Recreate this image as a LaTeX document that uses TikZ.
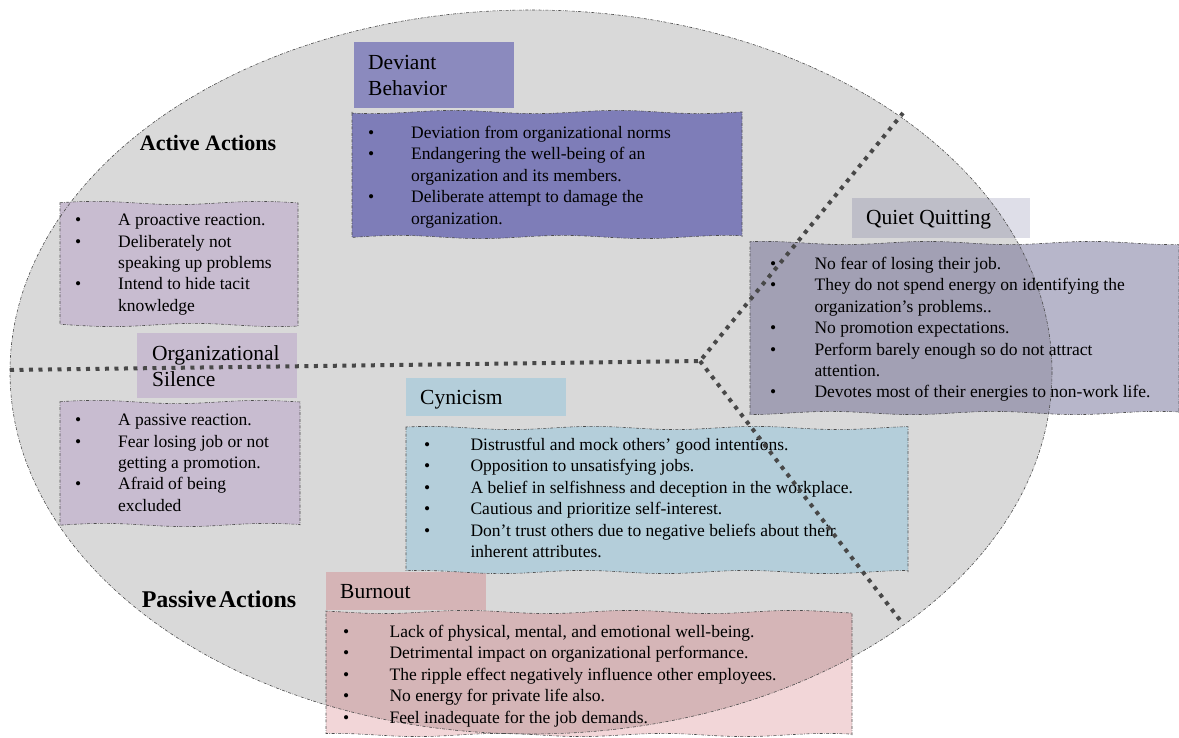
\documentclass[tikz,border=0pt]{standalone}
\usepackage{fontspec}
\setmainfont{Liberation Serif}
\definecolor{ovalgray}{RGB}{217,217,217}
\definecolor{devhead}{RGB}{139,138,190}
\definecolor{devfill}{RGB}{126,125,184}
\definecolor{silfill}{RGB}{200,188,208}
\definecolor{cynfill}{RGB}{180,206,218}
\definecolor{burnhead}{RGB}{213,180,182}
\definecolor{burnin}{RGB}{213,181,183}
\definecolor{burnout}{RGB}{242,214,216}
\definecolor{qqheadin}{RGB}{190,190,200}
\definecolor{qqheadout}{RGB}{222,222,232}
\definecolor{qqin}{RGB}{162,160,180}
\definecolor{qqout}{RGB}{183,182,202}
\definecolor{dotgray}{RGB}{72,72,72}
\tikzset{
  wavybox/.style n args={4}{insert path={(#1,#2)
    -- plot[domain=#1:#3,samples=40] (\x,{#2+1.6*sin(2.2*\x+#1)})
    -- (#3,#4)
    -- plot[domain=#3:#1,samples=40] (\x,{#4+1.6*sin(2.2*\x+#2)}) -- cycle}},
  rim/.style={draw=black!70,line width=0.6pt,dash pattern=on 3pt off 1.5pt on 0.6pt off 1.5pt},
  divider/.style={draw=dotgray,line width=4pt,dash pattern=on 4pt off 5.5pt},
  title/.style={anchor=north west,inner sep=0pt,align=left,font=\fontsize{21.5}{26}\selectfont},
  list/.style={anchor=north west,inner sep=0pt,align=left,font=\fontsize{17.5}{21.4}\selectfont},
  side/.style={inner sep=0pt,font=\fontsize{22}{26}\selectfont\bfseries}
}
\newcommand{\bul}[1][43pt]{\makebox[#1][l]{\textbullet}}
\newcommand{\cont}[1][43pt]{\hspace*{#1}}

\begin{document}
\begin{tikzpicture}[x=1pt,y=-1pt]
  \useasboundingbox (0,0) rectangle (1179,738);
  \fill[ovalgray] (531,372) ellipse [x radius=521, y radius=362];

  % headings
  \fill[devhead] (354,42) rectangle (514,108);
  \fill[silfill] (137,333) rectangle (297,398);
  \fill[cynfill] (406,378) rectangle (566,416);
  \fill[burnhead] (326,572) rectangle (486,610);
  \fill[qqheadout] (852,198) rectangle (1030,238);

  % lists
  \fill[devfill, wavybox={352}{112}{742}{237}];
  \fill[silfill, wavybox={60}{203}{298}{325}];
  \fill[silfill, wavybox={60}{402}{300}{525}];
  \fill[cynfill, wavybox={406}{428}{908}{572}];
  \fill[burnout, wavybox={326}{612}{852}{735}];
  \fill[qqout, wavybox={750}{243}{1179}{413}];
  \begin{scope}
    \clip (531,372) ellipse [x radius=521, y radius=362];
    \fill[qqheadin] (852,198) rectangle (1030,238);
    \fill[burnin, wavybox={326}{612}{852}{735}];
    \fill[qqin, wavybox={750}{243}{1179}{413}];
  \end{scope}
  \draw[rim] (531,372) ellipse [x radius=521, y radius=362];

  \draw[rim, wavybox={352}{112}{742}{237}];
  \draw[rim, wavybox={60}{203}{298}{325}];
  \draw[rim, wavybox={60}{402}{300}{525}];
  \draw[rim, wavybox={406}{428}{908}{572}];
  \draw[rim, wavybox={326}{612}{852}{735}];
  \draw[rim, wavybox={750}{243}{1179}{413}];

  \node[title] (devtitle) at (368,55) {Deviant\\Behavior};
  \node[title] (siltitle) at (152,345) {Organizational\\Silence};
  \node[title] (cyntitle) at (420,390) {Cynicism};
  \node[title] (burntitle) at (340,584) {Burnout};
  \node[title] (qqtitle) at (866,210) {Quiet Quitting};
  \node[side] (active) at (208,143) {Active Actions};
  \node[side, font=\fontsize{24}{28}\selectfont\bfseries] (passive) at (219,599) {Passive\hspace{0.1em}Actions};

  \node[list] (devlist) at (368,126) {\bul Deviation from organizational norms\\
    \bul Endangering the well-being of an\\ \cont organization and its members.\\
    \bul Deliberate attempt to damage the\\ \cont organization.};
  \node[list] (activelist) at (75,214) {\bul A proactive reaction.\\
    \bul Deliberately not\\ \cont speaking up problems\\
    \bul Intend to hide tacit\\ \cont knowledge};
  \node[list] (passivelist) at (75,414) {\bul A passive reaction.\\
    \bul Fear losing job or not\\ \cont getting a promotion.\\
    \bul Afraid of being\\ \cont excluded};
  \node[list] (cynlist) at (424,438) {\bul[42pt] Distrustful and mock others' good intentions.\\
    \bul[42pt] Opposition to unsatisfying jobs.\\
    \bul[42pt] A belief in selfishness and deception in the workplace.\\
    \bul[42pt] Cautious and prioritize self-interest.\\
    \bul[42pt] Don't trust others due to negative beliefs about their\\
    \cont[42pt] inherent attributes.};
  \node[list] (burnlist) at (343,625) {\bul[42pt] Lack of physical, mental, and emotional well-being.\\
    \bul[42pt] Detrimental impact on organizational performance.\\
    \bul[42pt] The ripple effect negatively influence other employees.\\
    \bul[42pt] No energy for private life also.\\
    \bul[42pt] Feel inadequate for the job demands.};
  \node[list] (qqlist) at (770,257) {\bul[40pt] No fear of losing their job.\\
    \bul[40pt] They do not spend energy on identifying the\\
    \cont[40pt] organization's problems..\\
    \bul[40pt] No promotion expectations.\\
    \bul[40pt] Perform barely enough so do not attract\\
    \cont[40pt] attention.\\
    \bul[40pt] Devotes most of their energies to non-work life.};

  \coordinate (hub) at (700,361);
  \coordinate (west) at (10,370);
  \coordinate (north) at (903,113);
  \coordinate (south) at (903,624);
  \draw[divider] (west) -- (hub) -- (north);
  \draw[divider] (hub) -- (south);

\end{tikzpicture}
\end{document}
